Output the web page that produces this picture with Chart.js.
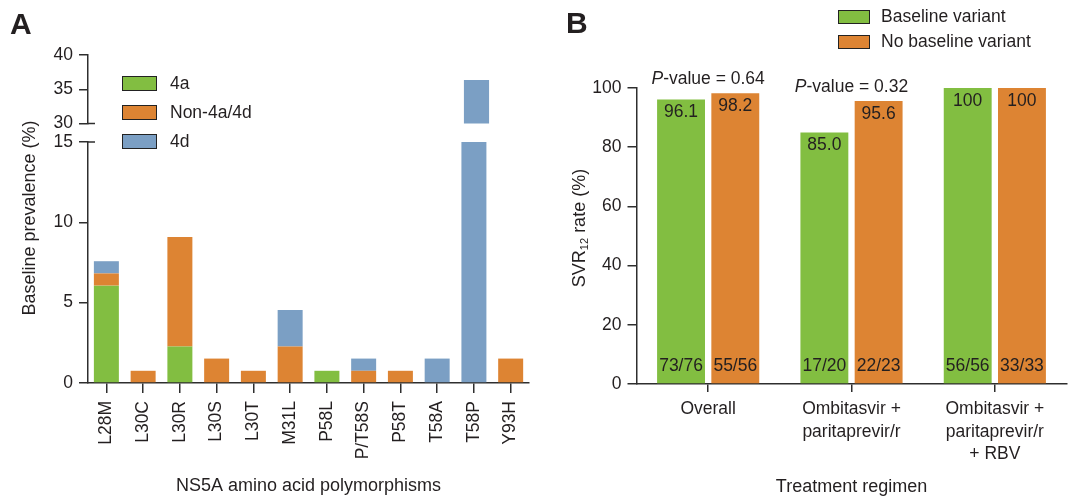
<!DOCTYPE html>
<html>
<head>
  <title>NS5A polymorphisms and SVR12</title>
  <script src="https://cdn.jsdelivr.net/npm/chart.js"></script>
  <style>
    body {
      margin: 0;
      background: #fff;
      font-family: "Liberation Sans", Arial, sans-serif;
      color: #231f20;
    }
    #wrap {
      position: relative;
      width: 1070px;
      height: 499px;
      overflow: hidden;
    }
    canvas {
      position: absolute;
    }
    .letter {
      position: absolute;
      font-weight: bold;
      font-size: 30px;
      line-height: 1;
    }
    .ytitle {
      position: absolute;
      font-size: 18px;
      white-space: nowrap;
      transform: translate(-50%, -50%) rotate(-90deg);
    }
    .ytitle sub {
      font-size: 11px;
      vertical-align: -3px;
    }
    .legend {
      position: absolute;
      font-size: 17.5px;
    }
    .legend .item {
      display: flex;
      align-items: center;
      white-space: nowrap;
    }
    .legend .box {
      box-sizing: border-box;
      border: 1px solid #222;
      flex: none;
    }
  </style>
</head>
<body>
<div id="wrap">
  <canvas id="lowA" width="540" height="499" style="left:0;top:0"></canvas>
  <canvas id="topA" width="540" height="140" style="left:0;top:0"></canvas>
  <canvas id="chartB" width="530" height="499" style="left:540px;top:0"></canvas>

  <div class="letter" style="left:10px;top:9px">A</div>
  <div class="letter" style="left:566px;top:8px">B</div>
  <div class="ytitle" style="left:29px;top:218px">Baseline prevalence (%)</div>
  <div class="ytitle" style="left:579px;top:228px">SVR<sub>12</sub> rate (%)</div>

  <div class="legend" id="legA" style="left:122px;top:76px"></div>
  <div class="legend" id="legB" style="left:838px;top:10px"></div>
</div>

<script>
  // ---- Panel A data (prevalence, %) ----
  const catsA = ['L28M', 'L30C', 'L30R', 'L30S', 'L30T', 'M31L', 'P58L', 'P/T58S', 'P58T', 'T58A', 'T58P', 'Y93H'];
  const seriesA = ['4a', 'Non-4a/4d', '4d'];
  const val4a  = [6.06, 0, 2.27, 0, 0, 0, 0.76, 0, 0, 0, 0, 0];
  const valNon = [0.76, 0.76, 6.82, 1.52, 0.76, 2.27, 0, 0.76, 0.76, 0, 0, 1.52];
  const val4d  = [0.76, 0, 0, 0, 0, 2.27, 0, 0.76, 0, 1.52, 36.36, 0];
  const lowRangeA = [0, 15];
  const topRangeA = [30, 40];

  // ---- Panel B data (SVR12, %) ----
  const catsB = ['Overall', ['Ombitasvir +', 'paritaprevir/r'], ['Ombitasvir +', 'paritaprevir/r', '+ RBV']];
  const seriesB = ['Baseline variant', 'No baseline variant'];
  const svrBase   = [96.1, 85.0, 100];
  const svrNoBase = [98.2, 95.6, 100];
  const fracBase   = ['73/76', '17/20', '56/56'];
  const fracNoBase = ['55/56', '22/23', '33/33'];
  const pValues = ['0.64', '0.32', null];

  const GREEN = '#82be41';
  const ORANGE = '#dd8433';
  const BLUE = '#7b9fc4';
  const TEXT = '#231f20';
  const AXIS = '#2e2e2e';
  const FONT = '"Liberation Sans", Arial, sans-serif';

  Chart.defaults.font.family = FONT;
  Chart.defaults.color = TEXT;

  function makeLegend(id, names, colors, boxW, boxH, gap) {
    const el = document.getElementById(id);
    names.forEach((n, i) => {
      const item = document.createElement('div');
      item.className = 'item';
      item.style.height = boxH + 'px';
      item.style.marginBottom = gap + 'px';
      item.innerHTML = `<span class="box" style="width:${boxW}px;height:${boxH}px;background:${colors[i]}"></span>` +
                       `<span style="margin-left:${id === 'legA' ? 13 : 11}px">${n}</span>`;
      el.appendChild(item);
    });
  }
  makeLegend('legA', seriesA, [GREEN, ORANGE, BLUE], 35, 15, 14);
  makeLegend('legB', seriesB, [GREEN, ORANGE], 32, 13.5, 11.5);

  // short marks crossing the axis at the break
  const breakMarks = {
    id: 'breakMarks',
    afterDraw(chart, args, opts) {
      if (opts.value === undefined) return;
      const y = chart.scales.y.getPixelForValue(opts.value);
      const x = chart.chartArea.left;
      const ctx = chart.ctx;
      ctx.save();
      ctx.strokeStyle = AXIS;
      ctx.lineWidth = 1.5;
      ctx.beginPath();
      ctx.moveTo(x, y);
      ctx.lineTo(x + 7, y);
      ctx.stroke();
      ctx.restore();
    }
  };

  function datasetsA() {
    return [
      { label: seriesA[0], data: val4a, backgroundColor: GREEN },
      { label: seriesA[1], data: valNon, backgroundColor: ORANGE },
      { label: seriesA[2], data: val4d, backgroundColor: BLUE }
    ].map(d => Object.assign(d, { borderWidth: 0, clip: 0, barPercentage: 0.68, categoryPercentage: 1 }));
  }

  function yAxis(range, step) {
    return {
      stacked: true,
      min: range[0],
      max: range[1],
      afterFit: s => { s.width = 80; },
      ticks: { stepSize: step, padding: 6, font: { size: 17.5 }, color: TEXT },
      grid: { drawOnChartArea: false, drawTicks: true, tickLength: 9, color: AXIS, lineWidth: 1.5 },
      border: { display: true, color: AXIS, width: 1.5 }
    };
  }

  // lower part of panel A (0-15)
  new Chart(document.getElementById('lowA'), {
    type: 'bar',
    data: { labels: catsA, datasets: datasetsA() },
    options: {
      responsive: false,
      animation: false,
      layout: { padding: { left: 8, top: 142, right: 8, bottom: 0 } },
      plugins: { legend: { display: false }, tooltip: { enabled: false }, breakMarks: { value: lowRangeA[1] } },
      scales: {
        x: {
          stacked: true,
          afterFit: s => { s.height = 116; },
          ticks: { autoSkip: false, minRotation: 90, maxRotation: 90, padding: 8, font: { size: 17.5 }, color: TEXT },
          grid: { offset: false, drawOnChartArea: false, drawTicks: true, tickLength: 10, color: AXIS, lineWidth: 1.5 },
          border: { display: true, color: AXIS, width: 1.5 },
          title: { display: true, text: 'NS5A amino acid polymorphisms', font: { size: 18 }, color: TEXT, padding: { top: 0, bottom: 2 } }
        },
        y: yAxis(lowRangeA, 5)
      }
    },
    plugins: [breakMarks]
  });

  // upper part of panel A (30-40)
  new Chart(document.getElementById('topA'), {
    type: 'bar',
    data: { labels: catsA, datasets: datasetsA() },
    options: {
      responsive: false,
      animation: false,
      layout: { padding: { left: 8, top: 55, right: 8, bottom: 16 } },
      plugins: { legend: { display: false }, tooltip: { enabled: false }, breakMarks: { value: topRangeA[0] } },
      scales: {
        x: { stacked: true, display: false },
        y: yAxis(topRangeA, 5)
      }
    },
    plugins: [breakMarks]
  });

  // value, n/N and P-value labels for panel B
  const barLabels = {
    id: 'barLabels',
    afterDatasetsDraw(chart) {
      const ctx = chart.ctx;
      const y0 = chart.scales.y.getPixelForValue(0);
      const fracs = [fracBase, fracNoBase];
      ctx.save();
      ctx.fillStyle = TEXT;
      ctx.textAlign = 'center';
      ctx.textBaseline = 'middle';
      ctx.font = '17.5px ' + FONT;
      chart.data.datasets.forEach((ds, d) => {
        chart.getDatasetMeta(d).data.forEach((el, i) => {
          const v = ds.data[i];
          ctx.fillText(v === 100 ? '100' : v.toFixed(1), el.x, el.y + 13);
          ctx.fillText(fracs[d][i], el.x, y0 - 18);
        });
      });
      const m0 = chart.getDatasetMeta(0).data;
      const m1 = chart.getDatasetMeta(1).data;
      pValues.forEach((p, i) => {
        if (!p) return;
        const cx = (m0[i].x + m1[i].x) / 2;
        const cy = Math.min(m0[i].y, m1[i].y) - 14;
        const italic = 'italic 17.5px ' + FONT;
        const normal = '17.5px ' + FONT;
        const rest = '-value = ' + p;
        ctx.font = italic;
        const w1 = ctx.measureText('P').width;
        ctx.font = normal;
        const w2 = ctx.measureText(rest).width;
        let x = cx - (w1 + w2) / 2;
        ctx.textAlign = 'left';
        ctx.font = italic;
        ctx.fillText('P', x, cy);
        ctx.font = normal;
        ctx.fillText(rest, x + w1, cy);
      });
      ctx.restore();
    }
  };

  new Chart(document.getElementById('chartB'), {
    type: 'bar',
    data: {
      labels: catsB,
      datasets: [
        { label: seriesB[0], data: svrBase, backgroundColor: GREEN },
        { label: seriesB[1], data: svrNoBase, backgroundColor: ORANGE }
      ].map(d => Object.assign(d, { borderWidth: 0, barPercentage: 0.883, categoryPercentage: 0.757 }))
    },
    options: {
      responsive: false,
      animation: false,
      layout: { padding: { left: 6.5, top: 88, right: 3.5, bottom: 0 } },
      plugins: { legend: { display: false }, tooltip: { enabled: false } },
      scales: {
        x: {
          afterFit: s => { s.height = 115; },
          ticks: { autoSkip: false, maxRotation: 0, padding: 6, font: { size: 17.5, lineHeight: 1.29 }, color: TEXT },
          grid: { offset: false, drawOnChartArea: false, drawTicks: true, tickLength: 8, color: AXIS, lineWidth: 1.5 },
          border: { display: true, color: AXIS, width: 1.5 },
          title: { display: true, text: 'Treatment regimen', font: { size: 18 }, color: TEXT, padding: { top: 0, bottom: 1 } }
        },
        y: {
          min: 0,
          max: 100,
          afterFit: s => { s.width = 90; },
          ticks: { stepSize: 20, padding: 6, font: { size: 17.5 }, color: TEXT },
          grid: { drawOnChartArea: false, drawTicks: true, tickLength: 9, color: AXIS, lineWidth: 1.5 },
          border: { display: true, color: AXIS, width: 1.5 }
        }
      }
    },
    plugins: [barLabels]
  });
</script>
</body>
</html>
